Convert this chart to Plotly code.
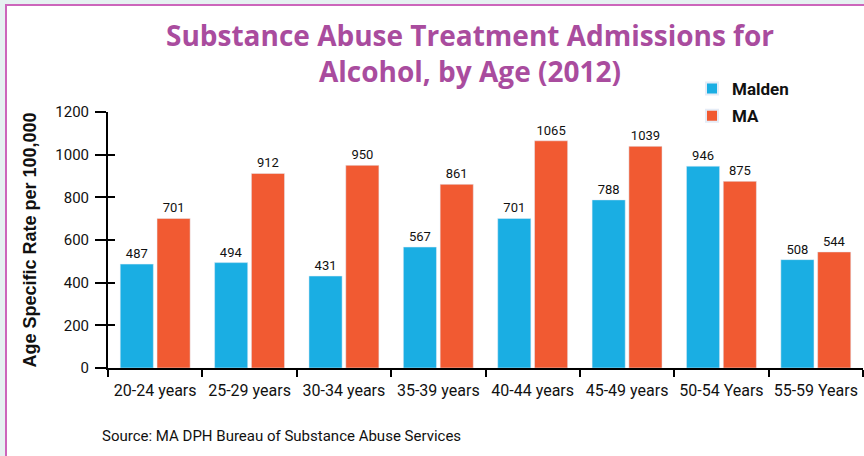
import plotly.graph_objects as go

categories = ["20-24 years", "25-29 years", "30-34 years", "35-39 years",
              "40-44 years", "45-49 years", "50-54 Years", "55-59 Years"]
malden = [487, 494, 431, 567, 701, 788, 946, 508]
ma = [701, 912, 950, 861, 1065, 1039, 875, 544]
y_ticks = [0, 200, 400, 600, 800, 1000, 1200]
title_lines = ["Substance Abuse Treatment Admissions for", "Alcohol, by Age (2012)"]

BLUE = "#1aaee3"
ORANGE = "#f15a32"
PURPLE = "#a94c9e"
FONT = "Roboto"

fig = go.Figure()
fig.add_trace(go.Bar(name="Malden", x=categories, y=malden, marker_color=BLUE,
                     legendgroup="a",
                     text=malden, textposition="outside",
                     textfont=dict(size=13, color="#111", family=FONT), cliponaxis=False))
fig.add_trace(go.Bar(name="MA", x=categories, y=ma, marker_color=ORANGE,
                     legendgroup="b",
                     text=ma, textposition="outside",
                     textfont=dict(size=13, color="#111", family=FONT), cliponaxis=False))
# invisible trace for inside ticks on secondary axis
fig.add_trace(go.Scatter(x=[categories[0]], y=[0], yaxis="y2", mode="markers",
                         marker=dict(opacity=0), showlegend=False, hoverinfo="skip"))

fig.update_layout(
    width=864, height=456,
    margin=dict(l=108, r=1, t=112, b=88),
    paper_bgcolor="white", plot_bgcolor="white",
    barmode="group", bargap=0.22, bargroupgap=0.1,
    font=dict(family=FONT, color="#111"),
    xaxis=dict(type="category", showline=True, linecolor="black", linewidth=2,
               ticks="outside", ticklen=7, tickwidth=2, tickcolor="black",
               tickson="boundaries", showgrid=False, ticklabelstandoff=7,
               tickfont=dict(size=16, color="#111", family=FONT)),
    yaxis=dict(range=[0, 1200], tickvals=y_ticks, showline=True, linecolor="black",
               linewidth=2, ticks="outside", ticklen=11, tickwidth=2, tickcolor="black",
               showgrid=False, zeroline=False, ticklabelstandoff=3,
               tickfont=dict(size=15, color="#111", family=FONT),
               title=dict(text="Age Specific Rate per 100,000", standoff=14,
                          font=dict(size=18, color="#111", family="Liberation Sans",
                                    weight="bold"))),
    yaxis2=dict(range=[0, 1200], tickvals=y_ticks, overlaying="y", side="left",
                ticks="inside", ticklen=7, tickwidth=2, tickcolor="black",
                showticklabels=False, showgrid=False, zeroline=False, showline=False),
    legend=dict(x=(692 - 108) / 755, y=(368 - 71) / 256, xanchor="left", yanchor="top",
                orientation="v",
                font=dict(size=17, color="#111", family=FONT, weight="bold"),
                bgcolor="rgba(0,0,0,0)", itemsizing="constant", tracegroupgap=2),
    showlegend=True,
)

# title as a single two-line annotation
fig.add_annotation(text="<br>".join(title_lines), xref="paper", yref="paper",
                   x=(470 - 108) / 755, y=(368 - 52.5) / 256,
                   xanchor="center", yanchor="middle", align="center", showarrow=False,
                   font=dict(size=28, color=PURPLE, family="Open Sans", weight="bold"))

# outer background and pink frame
fig.add_shape(type="rect", xref="paper", yref="paper", x0=-0.2, x1=1.01, y0=-0.4, y1=1.5,
              fillcolor="#e6f1f1", line_width=0, layer="below")
fig.add_shape(type="rect", xref="paper", yref="paper",
              x0=(6 - 108) / 755, x1=1.01, y0=-0.4, y1=(368 - 5) / 256,
              fillcolor="white", line=dict(color="#cc66bb", width=2), layer="below")

fig.add_annotation(text="Source: MA DPH Bureau of Substance Abuse Services",
                   xref="paper", yref="paper", x=(100 - 108) / 755, y=-(436 - 368) / 256,
                   xanchor="left", yanchor="middle", showarrow=False,
                   font=dict(size=15, color="#111", family=FONT))

fig.write_html("out.html", config={"displayModeBar": False},
               post_script="document.body.style.margin='0';")
